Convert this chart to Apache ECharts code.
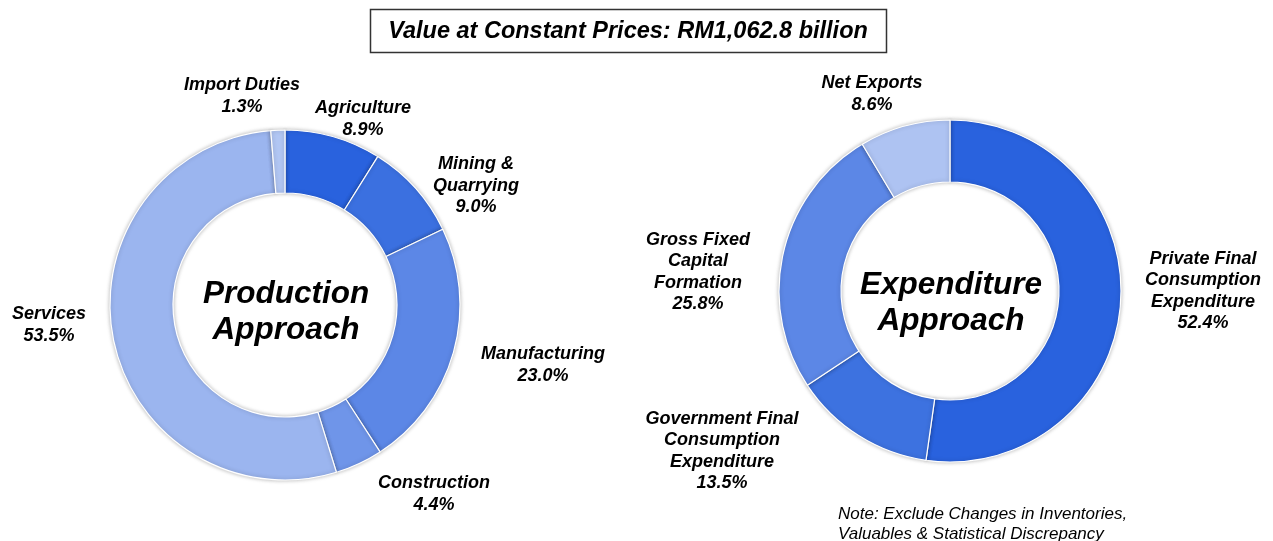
<!DOCTYPE html>
<html>
<head>
<meta charset="utf-8">
<script src="https://cdn.jsdelivr.net/npm/echarts@6/dist/echarts.min.js"></script>
<style>
html,body{margin:0;padding:0;background:#fff;}
#c{width:1273px;height:541px;}
</style>
</head>
<body>
<div id="c"></div>
<script>
// ---- data ----
var prodNames = ['Agriculture', 'Mining &\nQuarrying', 'Manufacturing', 'Construction', 'Services', 'Import Duties'];
var prodValues = [8.9, 9.0, 23.0, 4.4, 53.5, 1.3];
var expNames = ['Private Final\nConsumption\nExpenditure', 'Government Final\nConsumption\nExpenditure', 'Gross Fixed\nCapital\nFormation', 'Net Exports'];
var expValues = [52.4, 13.5, 25.8, 8.6];
var titleText = 'Value at Constant Prices: RM1,062.8 billion';
var noteText = 'Note: Exclude Changes in Inventories,\nValuables & Statistical Discrepancy';

// ---- styles / layout ----
var prodColors = ['#2962de', '#3b70e0', '#5c87e6', '#6f95e9', '#9bb5ef', '#b1c6f3'];
var expColors = ['#2962de', '#3d72e0', '#5c87e6', '#aec3f2'];
var prodLabelPos = [[363, 119], [476, 186], [543, 365], [434, 494], [49, 325], [242, 96]];
var expLabelPos = [[1203, 291], [722, 451], [698, 272], [872, 94]];
var FONT = '"Liberation Sans", Arial, sans-serif';

function mk(names, values, colors) {
  return names.map(function (n, i) {
    return { name: n, value: values[i], itemStyle: { color: colors[i] } };
  });
}

var labelStyle = {
  show: true,
  position: 'outside',
  formatter: function (p) { return p.name + '\n' + Number(p.value).toFixed(1) + '%'; },
  fontFamily: FONT,
  fontSize: 18,
  fontWeight: 'bold',
  fontStyle: 'italic',
  color: '#000',
  lineHeight: 21.5,
  align: 'center'
};

var chart = echarts.init(document.getElementById('c'));
chart.setOption({
  animation: false,
  series: [
    {
      type: 'pie',
      center: [285, 305],
      radius: [112, 175],
      startAngle: 90,
      clockwise: true,
      avoidLabelOverlap: false,
      data: mk(prodNames, prodValues, prodColors),
      itemStyle: { borderColor: '#fff', borderWidth: 1.2, shadowBlur: 4, shadowColor: 'rgba(0,0,0,0.28)' },
      label: labelStyle,
      labelLine: { show: false },
      labelLayout: function (p) {
        var q = prodLabelPos[p.dataIndex];
        return { x: q[0], y: q[1], align: 'center', verticalAlign: 'middle' };
      },
      emphasis: { disabled: true }
    },
    {
      type: 'pie',
      center: [950, 291],
      radius: [109, 171],
      startAngle: 90,
      clockwise: true,
      avoidLabelOverlap: false,
      data: mk(expNames, expValues, expColors),
      itemStyle: { borderColor: '#fff', borderWidth: 1.2, shadowBlur: 4, shadowColor: 'rgba(0,0,0,0.28)' },
      label: labelStyle,
      labelLine: { show: false },
      labelLayout: function (p) {
        var q = expLabelPos[p.dataIndex];
        return { x: q[0], y: q[1], align: 'center', verticalAlign: 'middle' };
      },
      emphasis: { disabled: true }
    }
  ],
  graphic: [
    {
      type: 'rect',
      shape: { x: 370.5, y: 9.5, width: 516, height: 43 },
      style: { fill: '#fff', stroke: '#333', lineWidth: 1.5 }
    },
    {
      type: 'text',
      x: 628, y: 32,
      style: {
        text: titleText, fontFamily: FONT, fontSize: 23.5, fontWeight: 'bold', fontStyle: 'italic',
        fill: '#000', align: 'center', verticalAlign: 'middle'
      }
    },
    {
      type: 'text',
      x: 286, y: 312,
      style: {
        text: 'Production\nApproach', fontFamily: FONT, fontSize: 31.5, fontWeight: 'bold', fontStyle: 'italic',
        fill: '#000', align: 'center', verticalAlign: 'middle', lineHeight: 36
      }
    },
    {
      type: 'text',
      x: 951, y: 303,
      style: {
        text: 'Expenditure\nApproach', fontFamily: FONT, fontSize: 31.5, fontWeight: 'bold', fontStyle: 'italic',
        fill: '#000', align: 'center', verticalAlign: 'middle', lineHeight: 36
      }
    },
    {
      type: 'text',
      x: 838, y: 524,
      style: {
        text: noteText, fontFamily: FONT, fontSize: 17, fontStyle: 'italic',
        fill: '#000', align: 'left', verticalAlign: 'middle', lineHeight: 20
      }
    }
  ]
});
</script>
</body>
</html>
